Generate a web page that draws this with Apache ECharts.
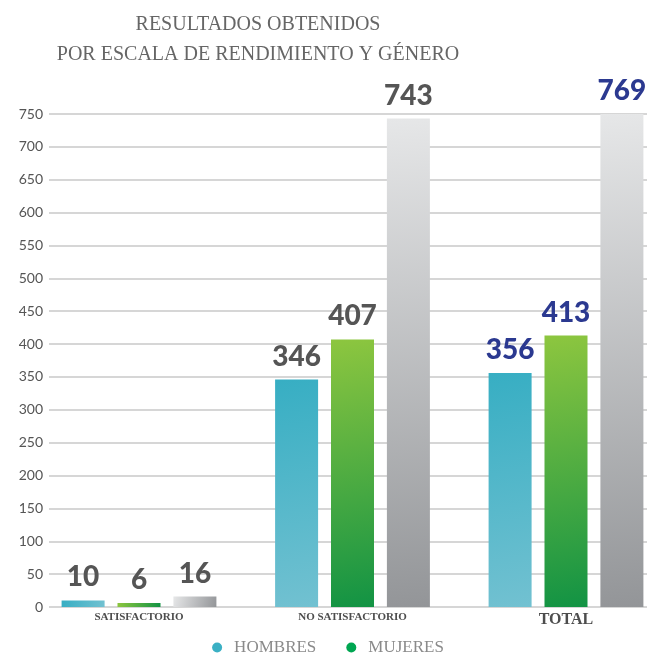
<!DOCTYPE html>
<html>
<head>
<meta charset="utf-8">
<script src="https://cdn.jsdelivr.net/npm/echarts@6/dist/echarts.min.js"></script>
<style>
  html, body { margin: 0; padding: 0; background: #fff; }
  #main { width: 656px; height: 653px; }
</style>
</head>
<body>
<div id="main"></div>
<script>
// datos
var categorias = ['SATISFACTORIO', 'NO SATISFACTORIO', 'TOTAL'];
var hombres = [10, 346, 356];
var mujeres = [6, 407, 413];
var totales = [16, 743, 769];

var serifFont = '"Liberation Serif", serif';
var numFont = 'Lato, "Open Sans", sans-serif';
var colorGris = '#555555';
var colorAzul = '#2b3990';

function grad(c1, c2) {
    return new echarts.graphic.LinearGradient(0, 0, 1, 1, [
        { offset: 0, color: c1 },
        { offset: 1, color: c2 }
    ]);
}

// la ultima categoria lleva las etiquetas en azul
function conEtiquetas(arr) {
    var out = [];
    for (var i = 0; i < arr.length; i++) {
        out.push({
            value: arr[i],
            label: { color: i == arr.length - 1 ? colorAzul : colorGris }
        });
    }
    return out;
}

var labelBase = {
    show: true,
    position: 'top',
    distance: 9,
    fontSize: 28,
    fontWeight: 900,
    fontFamily: numFont
};

var chart = echarts.init(document.getElementById('main'));
var option = {
    animation: false,
    backgroundColor: '#fff',
    title: {
        text: 'RESULTADOS OBTENIDOS\nPOR ESCALA DE RENDIMIENTO Y GÉNERO',
        left: 253,
        top: 5,
        textAlign: 'center',
        textStyle: {
            fontFamily: serifFont,
            fontWeight: 'normal',
            fontSize: 20,
            lineHeight: 30,
            color: '#666666'
        }
    },
    legend: {
        top: 634,
        left: 'center',
        icon: 'circle',
        itemWidth: 10,
        itemHeight: 10,
        itemGap: 30,
        data: [
            { name: 'HOMBRES', itemStyle: { color: '#3ab0c4' } },
            { name: 'MUJERES', itemStyle: { color: '#00a651' } }
        ],
        textStyle: {
            fontFamily: serifFont,
            fontSize: 17,
            color: '#8a8a8a',
            padding: [0, 0, 0, 7]
        }
    },
    grid: [
        { left: 49, right: 9, top: 114, bottom: 46 },
        { left: 139, right: 90, top: 114, bottom: 46 }
    ],
    xAxis: [
        {
            gridIndex: 0,
            type: 'category',
            data: categorias,
            show: false
        },
        {
            gridIndex: 1,
            type: 'category',
            data: categorias,
            boundaryGap: false,
            axisLine: { show: false },
            axisTick: { show: false },
            axisLabel: {
                margin: 5,
                interval: 0,
                formatter: function (v) {
                    return v == 'TOTAL' ? '{t|' + v + '}' : '{s|' + v + '}';
                },
                rich: {
                    s: { fontFamily: serifFont, fontWeight: 'bold', fontSize: 11, color: '#4d4d4d' },
                    t: { fontFamily: serifFont, fontWeight: 'bold', fontSize: 16, color: '#4d4d4d' }
                }
            }
        }
    ],
    yAxis: [
        {
            gridIndex: 0,
            type: 'value',
            min: 0,
            max: 750,
            interval: 50,
            axisLine: { show: false },
            axisTick: { show: false },
            axisLabel: {
                margin: 6,
                fontFamily: numFont,
                fontSize: 14,
                color: '#555'
            },
            splitLine: { lineStyle: { color: '#c8c8c8', width: 1.5 } }
        },
        {
            gridIndex: 1,
            type: 'value',
            min: 0,
            max: 750,
            interval: 50,
            show: false
        }
    ],
    series: [
        {
            name: 'HOMBRES',
            type: 'bar',
            xAxisIndex: 1,
            yAxisIndex: 1,
            barWidth: 43,
            barGap: '30%',
            itemStyle: { color: grad('#37aec3', '#72c1d1') },
            label: labelBase,
            data: conEtiquetas(hombres)
        },
        {
            name: 'MUJERES',
            type: 'bar',
            xAxisIndex: 1,
            yAxisIndex: 1,
            barWidth: 43,
            barGap: '30%',
            itemStyle: { color: grad('#8dc63f', '#129344') },
            label: labelBase,
            data: conEtiquetas(mujeres)
        },
        {
            name: 'Total',
            type: 'bar',
            xAxisIndex: 1,
            yAxisIndex: 1,
            barWidth: 43,
            barGap: '30%',
            itemStyle: { color: grad('#e6e7e8', '#939598') },
            label: labelBase,
            data: conEtiquetas(totales)
        }
    ]
};
chart.setOption(option);
</script>
</body>
</html>
